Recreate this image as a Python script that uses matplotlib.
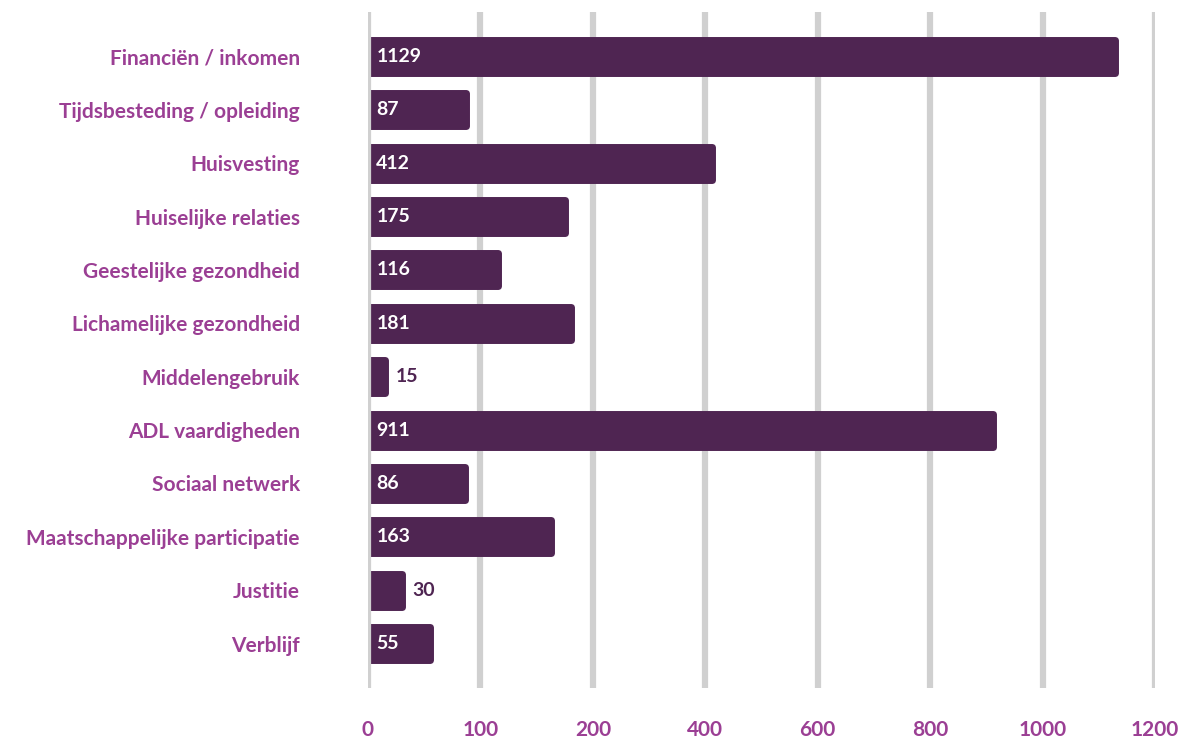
import matplotlib.pyplot as plt
import numpy as np

categories = ["Financiën / inkomen", "Tijdsbesteding / opleiding", "Huisvesting",
              "Huiselijke relaties", "Geestelijke gezondheid", "Lichamelijke gezondheid",
              "Middelengebruik", "ADL vaardigheden", "Sociaal netwerk",
              "Maatschappelijke participatie", "Justitie", "Verblijf"]
values = [1129, 87, 412, 175, 116, 181, 15, 911, 86, 163, 30, 55]
ticks = [0, 100, 200, 400, 600, 800, 1000, 1200]

BAR = '#4f2552'
LABEL = '#9b3f94'
GRID = '#d0d0d0'
plt.rcParams['font.family'] = ['Lato', 'DejaVu Sans']

# axis ticks are evenly spaced although the steps are not (100, 100, 200, ...)
pos = np.arange(len(ticks))


def fwd(x):
    return np.interp(x, ticks, pos)


def inv(p):
    return np.interp(p, pos, ticks)


fig = plt.figure(figsize=(11.82, 7.39), dpi=100)
ax = fig.add_axes([368 / 1182, 1 - 688 / 739, (1155 - 368) / 1182, (688 - 12) / 739])
ax.set_xscale('function', functions=(fwd, inv))
ax.set_xlim(0, 1200)
n = len(categories)
ax.set_ylim(n - 1 + 0.83, -0.83)

for t in ticks:
    # the zero line sits on top of the bars
    ax.axvline(t, color=GRID, lw=4.5, solid_capstyle='round', zorder=4 if t == 0 else 0)

y = np.arange(n)
ax.barh(y, values, height=0.62, color=BAR, edgecolor=BAR, linewidth=5,
        joinstyle='round', zorder=2)

for yi, v in zip(y, values):
    if v >= 40:
        ax.annotate(str(v), (0, yi), xytext=(6, 0), textcoords='offset points',
                    color='white', ha='left', va='center',
                    fontsize=14, fontweight='bold', zorder=3)
    else:
        ax.annotate(str(v), (v, yi), xytext=(8, 0), textcoords='offset points',
                    color=BAR, ha='left', va='center', fontsize=14,
                    fontweight='bold', zorder=3)

ax.set_yticks(y)
ax.set_yticklabels(categories)
ax.set_xticks(ticks)
ax.set_xticklabels([str(t) for t in ticks])
ax.tick_params(axis='y', length=0, pad=49, labelsize=15, labelcolor=LABEL)
ax.tick_params(axis='x', length=0, pad=23, labelsize=15, labelcolor=LABEL)
for lab in ax.get_xticklabels() + ax.get_yticklabels():
    lab.set_fontweight('bold')
for s in ax.spines.values():
    s.set_visible(False)

fig.savefig('out.png', dpi=100)
